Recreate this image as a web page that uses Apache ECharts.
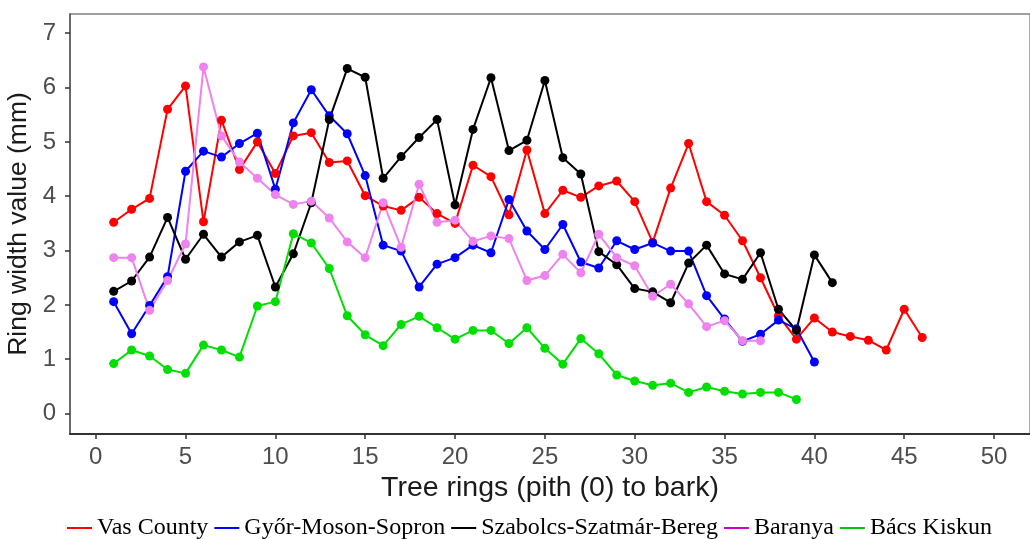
<!DOCTYPE html>
<html>
<head>
<meta charset="utf-8">
<title>Ring width by county</title>
<script src="https://cdn.jsdelivr.net/npm/echarts@6/dist/echarts.min.js"></script>
<style>
  html, body { margin: 0; padding: 0; background: #fff; }
  #chart { width: 1030px; height: 539px; }
</style>
</head>
<body>
<div id="chart"></div>
<script>
// ---------- data ----------
var seriesNames = ['Vas County', 'Győr-Moson-Sopron', 'Szabolcs-Szatmár-Bereg', 'Baranya', 'Bács Kiskun'];

var vasCounty = [3.52, 3.76, 3.96, 5.60, 6.03, 3.53, 5.40, 4.49, 5.00, 4.42,
                 5.11, 5.17, 4.62, 4.65, 4.01, 3.82, 3.74, 3.98, 3.68, 3.50,
                 4.57, 4.36, 3.66, 4.85, 3.68, 4.11, 3.98, 4.19, 4.28, 3.90,
                 3.15, 4.15, 4.97, 3.90, 3.65, 3.18, 2.50, 1.80, 1.37, 1.76,
                 1.50, 1.42, 1.35, 1.17, 1.92, 1.40];
var gyorMosonSopron = [2.06, 1.47, 1.99, 2.52, 4.46, 4.83, 4.72, 4.97, 5.16, 4.13,
                       5.35, 5.96, 5.48, 5.15, 4.38, 3.10, 2.99, 2.33, 2.75, 2.87,
                       3.10, 2.96, 3.94, 3.36, 3.02, 3.48, 2.79, 2.68, 3.18, 3.02,
                       3.14, 2.99, 2.99, 2.17, 1.74, 1.33, 1.46, 1.72, 1.56, 0.95];
var szabolcs = [2.25, 2.44, 2.88, 3.61, 2.84, 3.30, 2.88, 3.16, 3.28, 2.33,
                2.94, 3.88, 5.41, 6.35, 6.19, 4.33, 4.73, 5.08, 5.41, 3.84,
                5.23, 6.18, 4.84, 5.03, 6.13, 4.71, 4.41, 2.98, 2.74, 2.30,
                2.24, 2.04, 2.77, 3.10, 2.57, 2.47, 2.96, 1.92, 1.53, 2.92,
                2.41];
var baranya = [2.87, 2.87, 1.90, 2.45, 3.12, 6.38, 5.11, 4.63, 4.33, 4.03,
               3.85, 3.91, 3.60, 3.16, 2.87, 3.88, 3.06, 4.22, 3.52, 3.56,
               3.17, 3.27, 3.22, 2.45, 2.54, 2.93, 2.59, 3.30, 2.87, 2.72,
               2.16, 2.38, 2.02, 1.60, 1.71, 1.34, 1.34];
var bacsKiskun = [0.92, 1.17, 1.06, 0.81, 0.74, 1.26, 1.17, 1.04, 1.98, 2.06,
                  3.31, 3.14, 2.67, 1.80, 1.45, 1.25, 1.64, 1.79, 1.58, 1.37,
                  1.53, 1.53, 1.29, 1.58, 1.20, 0.91, 1.38, 1.10, 0.71, 0.60,
                  0.52, 0.56, 0.39, 0.49, 0.41, 0.36, 0.39, 0.39, 0.26];

var xTicks = [0, 5, 10, 15, 20, 25, 30, 35, 40, 45, 50];
var yTicks = [0, 1, 2, 3, 4, 5, 6, 7];

// ring number starts at 1
function toPoints(values) {
  return values.map(function (v, i) { return [i + 1, v]; });
}

var lineColors   = ['#ff0000', '#0000ff', '#000000', '#ee82ee', '#00e000'];
var legendColors = ['#ff0000', '#0000ff', '#000000', '#cc00cc', '#00c800'];
var allValues = [vasCounty, gyorMosonSopron, szabolcs, baranya, bacsKiskun];

var chart = echarts.init(document.getElementById('chart'), null, { renderer: 'canvas' });

var series = seriesNames.map(function (name, k) {
  return {
    name: name,
    type: 'line',
    data: toPoints(allValues[k]),
    symbol: 'circle',
    symbolSize: 9,
    showAllSymbol: true,
    lineStyle: { color: lineColors[k], width: 2 },
    itemStyle: { color: lineColors[k] },
    emphasis: { disabled: true }
  };
});

var tickFont = { color: '#4d4d4d', fontSize: 24, fontFamily: 'Liberation Sans, Arial, sans-serif' };

var option = {
  animation: false,
  backgroundColor: '#fff',
  grid: {
    left: 70, right: 0, top: 14, bottom: 105,
    show: true,
    borderColor: '#808080',
    borderWidth: 1.3,
    outerBoundsMode: 'none'
  },
  legend: {
    data: seriesNames.map(function (n, k) {
      return { name: n, itemStyle: { color: legendColors[k] } };
    }),
    icon: 'rect',
    itemWidth: 25,
    itemHeight: 2,
    itemGap: 6,
    left: 67,
    top: 516,
    padding: 0,
    selectedMode: false,
    textStyle: { color: '#000', fontSize: 24, fontFamily: 'Liberation Serif, Times New Roman, serif' }
  },
  xAxis: {
    type: 'value',
    min: -1.43,
    max: 52,
    name: 'Tree rings (pith (0) to bark)',
    nameLocation: 'middle',
    nameGap: 40,
    nameTextStyle: { color: '#1a1a1a', fontSize: 28.5, fontFamily: 'Liberation Sans, Arial, sans-serif' },
    axisLine: { show: true, onZero: false, lineStyle: { color: '#333', width: 2 } },
    axisTick: { show: true, length: 5, customValues: xTicks, lineStyle: { color: '#333', width: 1.5 } },
    axisLabel: Object.assign({ margin: 11, customValues: xTicks }, tickFont),
    splitLine: { show: false }
  },
  yAxis: {
    type: 'value',
    min: -0.376,
    max: 7.354,
    name: 'Ring width value (mm)',
    nameLocation: 'middle',
    nameGap: 31,
    nameTextStyle: { color: '#1a1a1a', fontSize: 26.5, fontFamily: 'Liberation Sans, Arial, sans-serif' },
    axisLine: { show: true, onZero: false, lineStyle: { color: '#555', width: 1.5 } },
    axisTick: { show: true, length: 5, customValues: yTicks, lineStyle: { color: '#333', width: 1.5 } },
    axisLabel: Object.assign({ margin: 14, customValues: yTicks }, tickFont),
    splitLine: { show: false }
  },
  series: series
};

chart.setOption(option);
</script>
</body>
</html>
